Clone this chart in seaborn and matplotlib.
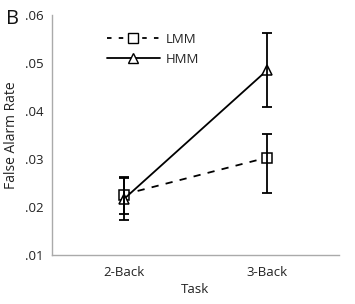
import matplotlib
matplotlib.use("Agg")
import matplotlib.pyplot as plt
import seaborn as sns
import pandas as pd
import numpy as np
from matplotlib.lines import Line2D

tasks = ["2-Back", "3-Back"]
groups = ["LMM", "HMM"]
lmm_mean = [0.0226, 0.0303]
lmm_err_low = [0.0040, 0.0074]
lmm_err_high = [0.0036, 0.0050]
hmm_mean = [0.0216, 0.0485]
hmm_err = [0.0044, 0.0077]
yticks = [0.01, 0.02, 0.03, 0.04, 0.05, 0.06]
ytick_labels = [".01", ".02", ".03", ".04", ".05", ".06"]

sns.set_theme(style="white")
plt.rcParams['font.family'] = ['Open Sans', 'DejaVu Sans']

df = pd.DataFrame({
    "Task": tasks * 2,
    "Rate": lmm_mean + hmm_mean,
    "Group": ["LMM"] * 2 + ["HMM"] * 2,
})

fig = plt.figure(figsize=(3.55, 3.04), dpi=100)
ax = fig.add_axes([0.146, 0.161, 0.809, 0.79])

sns.pointplot(data=df, x="Task", y="Rate", hue="Group", hue_order=groups,
              order=tasks, markers=["s", "^"], linestyles=["--", "-"],
              palette=["black", "black"], errorbar=None, ax=ax,
              markersize=7, linewidth=1.3, legend=False)
for ln in ax.lines:
    ln.set_markerfacecolor("white")
    ln.set_markeredgecolor("black")
    ln.set_markeredgewidth(1.1)
    ln.set_zorder(3)
    if ln.get_linestyle() == "--":
        ln.set_dashes([4, 4])

xpos = np.arange(len(tasks))
ax.errorbar(xpos, lmm_mean, yerr=[lmm_err_low, lmm_err_high], fmt="none", ecolor="black",
            elinewidth=1.3, capsize=3.3, capthick=1.3, zorder=4)
ax.errorbar(xpos, hmm_mean, yerr=hmm_err, fmt="none", ecolor="black",
            elinewidth=1.3, capsize=3.3, capthick=1.3, zorder=4)

ax.set_xlim(-0.5, 1.5)
ax.set_ylim(0.01, 0.06)
ax.set_yticks(yticks)
ax.set_yticklabels(ytick_labels)
ax.set_xticks(xpos)
ax.set_xticklabels(tasks)
ax.set_xticks([-0.5, 0.5, 1.5], minor=True)
ax.tick_params(axis="x", which="major", length=0, pad=8, labelsize=9.5, colors="#222222")
ax.tick_params(axis="x", which="minor", length=4, width=0.8, color="#aaaaaa", direction="in")
ax.tick_params(axis="y", which="major", length=4, width=0.8, color="#aaaaaa", labelsize=9.5,
               labelcolor="#222222", direction="out", pad=2)
ax.set_xlabel("Task", fontsize=9.5, color="#222222", labelpad=3)
ax.set_ylabel("False Alarm Rate", fontsize=10, color="#222222", labelpad=4)
for s in ["top", "right"]:
    ax.spines[s].set_visible(False)
for s in ["left", "bottom"]:
    ax.spines[s].set_color("#aaaaaa")
    ax.spines[s].set_linewidth(1.0)

handles = [
    Line2D([], [], color="black", linestyle="--", dashes=[2.5, 4], marker="s", markersize=7,
           markerfacecolor="white", markeredgecolor="black", linewidth=1.3),
    Line2D([], [], color="black", linestyle="-", marker="^", markersize=7,
           markerfacecolor="white", markeredgecolor="black", linewidth=1.3),
]
ax.legend(handles, groups, loc="upper left", bbox_to_anchor=(0.15, 0.975), frameon=False,
          fontsize=9.5, handlelength=4.0, handletextpad=0.5, labelspacing=0.55)

fig.text(0.018, 0.937, "B", fontsize=14.5, va="center", ha="left", color="#111111")

fig.savefig("out.png", dpi=100)
